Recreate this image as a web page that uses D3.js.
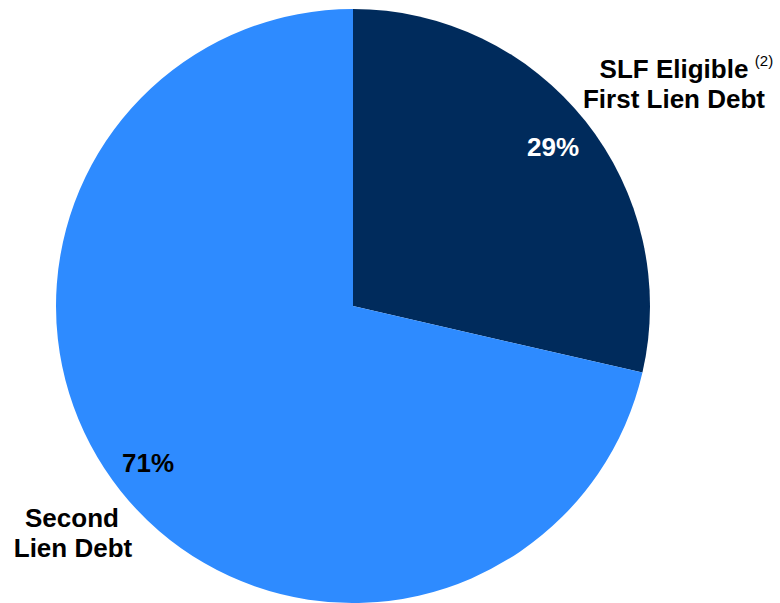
<!DOCTYPE html>
<html><head><meta charset="utf-8">
<script src="https://cdn.jsdelivr.net/npm/d3@7"></script>
<style>html,body{margin:0;padding:0;background:#fff;}svg{display:block;}</style>
</head><body>
<svg id="chart" width="780" height="603"></svg>
<script>
const categories = ["SLF Eligible First Lien Debt", "Second Lien Debt"];
const values = [28.6, 71.4];
const pctLabels = ["29%", "71%"];
const colors = ["#002B5C", "#2E8BFF"];

const svg = d3.select("#chart");
const cx = 353, cy = 306, r = 297;
const g = svg.append("g").attr("transform", `translate(${cx},${cy})`);
const pie = d3.pie().sort(null).value(d => d)(values);
const arc = d3.arc().innerRadius(0).outerRadius(r);
g.selectAll("path").data(pie).enter().append("path")
  .attr("d", arc).attr("fill", (d, i) => colors[i]);

const font = "'Liberation Sans', Arial, sans-serif";
const pctPos = [[553, 156], [148, 472]];
const pctCol = ["#fff", "#000"];
svg.selectAll("text.pct").data(pctLabels).enter().append("text")
  .attr("class", "pct")
  .attr("x", (d, i) => pctPos[i][0]).attr("y", (d, i) => pctPos[i][1])
  .attr("text-anchor", "middle").attr("font-family", font)
  .attr("font-weight", "bold").attr("font-size", 26)
  .attr("fill", (d, i) => pctCol[i]).text(d => d);

const t1 = svg.append("text").attr("font-family", font).attr("font-weight", "bold")
  .attr("font-size", 26).attr("fill", "#000").attr("text-anchor", "middle");
t1.append("tspan").attr("x", 674).attr("y", 78).text("SLF Eligible");
t1.append("tspan").attr("x", 674).attr("y", 108).text("First Lien Debt");
svg.append("text").attr("x", 764).attr("y", 66).attr("text-anchor", "middle")
  .attr("font-family", font).attr("font-size", 15).attr("fill", "#000").text("(2)");

const t2 = svg.append("text").attr("font-family", font).attr("font-weight", "bold")
  .attr("font-size", 26).attr("fill", "#000").attr("text-anchor", "middle");
t2.append("tspan").attr("x", 72).attr("y", 527).text("Second");
t2.append("tspan").attr("x", 73).attr("y", 557).text("Lien Debt");
</script>
</body></html>
